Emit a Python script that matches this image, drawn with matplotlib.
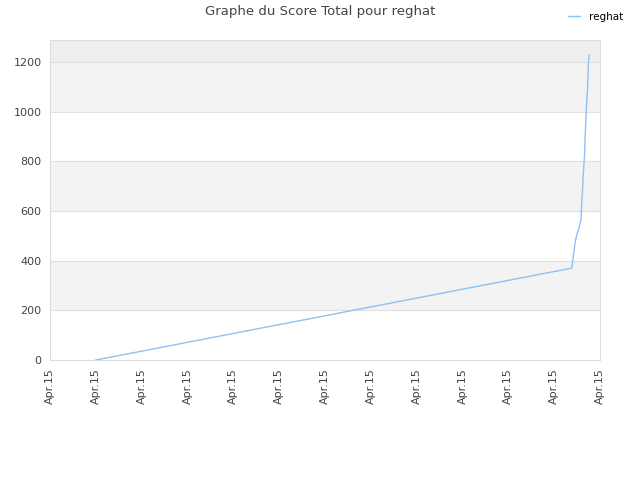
import matplotlib.pyplot as plt
import numpy as np

# x positions in tick units (0..12), each tick labelled "Apr.15"
x_vals = [1.0, 11.383, 11.418, 11.455, 11.492, 11.542, 11.586, 11.60, 11.62,
          11.636, 11.66, 11.673, 11.69, 11.71, 11.73, 11.745, 11.76]
scores = [0, 370, 416, 471, 503, 531, 564, 632, 685,
          753, 818, 886, 967, 1035, 1100, 1188, 1228]
tick_labels = ['Apr.15'] * 13
y_ticks = [0, 200, 400, 600, 800, 1000, 1200]

fig = plt.figure(figsize=(6.4, 4.8), dpi=100)
ax = fig.add_axes([50 / 640, 120 / 480, 550 / 640, 320 / 480])

ymax = 1289
# alternating bands
for lo in range(0, 1200, 200):
    if (lo // 200) % 2 == 1:
        ax.axhspan(lo, lo + 200, color='#f3f3f3', zorder=0, lw=0)
ax.axhspan(1200, ymax, color='#eeeeee', zorder=0, lw=0)
for yt in y_ticks[1:]:
    ax.axhline(yt, color='#e0e0e0', lw=0.8, zorder=1)

ax.plot(x_vals, scores, color='#8fc1f2', lw=1, label='reghat', zorder=3)

ax.set_xlim(0, 12)
ax.set_ylim(0, ymax)
ax.set_xticks(np.arange(13))
ax.set_xticklabels(tick_labels, rotation=90, fontsize=8, color='#444444')
ax.set_yticks(y_ticks)
ax.set_yticklabels([str(v) for v in y_ticks], fontsize=8, color='#444444')
ax.tick_params(length=0, pad=6)
for s in ax.spines.values():
    s.set_color('#dddddd')

fig.suptitle('Graphe du Score Total pour reghat', x=0.5, y=0.99,
             fontsize=9.5, color='#444444')
fig.legend(loc='upper right', bbox_to_anchor=(0.988, 0.995), frameon=False,
           fontsize=7.5, handlelength=1.2)

fig.savefig('out.png', dpi=100)
